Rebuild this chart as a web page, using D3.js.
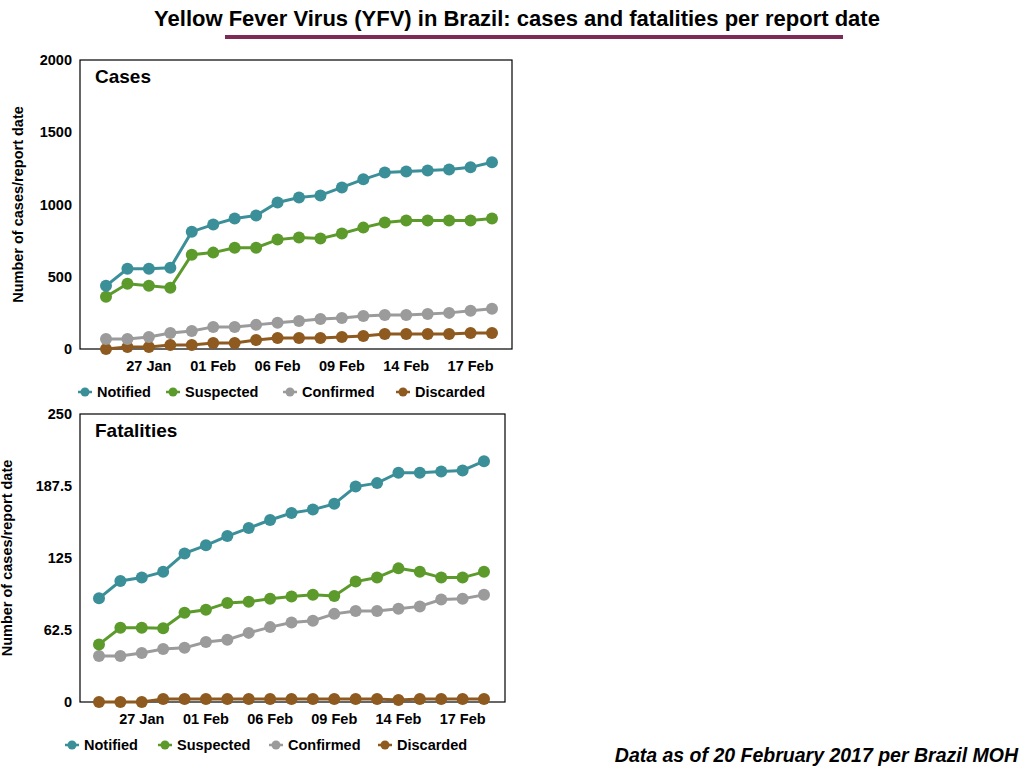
<!DOCTYPE html>
<html><head><meta charset="utf-8">
<script src="https://cdn.jsdelivr.net/npm/d3@7"></script>
<style>
body{margin:0;background:#fff;font-family:"Liberation Sans",Arial,sans-serif;}
text{font-family:"Liberation Sans",Arial,sans-serif;font-weight:bold;}
</style></head><body>
<svg id="c" width="1024" height="768"></svg>
<script>
const dates=['25 Jan','26 Jan','27 Jan','28 Jan','30 Jan','01 Feb','02 Feb','03 Feb','06 Feb','07 Feb','08 Feb','09 Feb','10 Feb','13 Feb','14 Feb','15 Feb','16 Feb','17 Feb','20 Feb'];
const tickIdx=[2,5,8,11,14,17];
const seriesNames=['Notified','Suspected','Confirmed','Discarded'];
const colors=['#3b8f98','#5b9a2b','#9b9b9b','#8e5a1f'];

const casesNotified=[437,555,555,562,812,861,903,924,1014,1049,1063,1118,1174,1222,1229,1236,1243,1257,1292];
const casesSuspected=[361,451,437,424,653,667,701,701,757,771,764,799,840,875,889,889,889,889,903];
const casesConfirmed=[69,69,83,111,125,153,153,167,181,194,208,215,229,236,236,243,250,264,278];
const casesDiscarded=[0,14,14,28,28,42,42,62,76,76,76,83,90,104,104,104,104,111,111];

const fatNotified=[90,105,108,113,129,136,144,151,158,164,167,172,187,190,199,199,200,201,209];
const fatSuspected=[50,64.5,64.5,64,77.5,80,86,87,89.7,91.5,93,92,104.5,108,116,113,108,108,113];
const fatConfirmed=[40,40,42.5,46,47,52,54,60,65,69,70.5,76.5,79,79,81,83,89,89.7,93];
const fatDiscarded=[0,0,0,2.6,2.6,2.6,2.6,2.6,2.6,2.6,2.6,2.6,2.6,2.6,1.7,2.6,2.6,2.6,2.6];

const svg=d3.select('#c');

svg.append('text').attr('x',517).attr('y',26).attr('text-anchor','middle')
  .style('font-size','22px').text('Yellow Fever Virus (YFV) in Brazil: cases and fatalities per report date');
svg.append('line').attr('x1',225).attr('x2',843).attr('y1',37).attr('y2',37)
  .attr('stroke','#7d2b55').attr('stroke-width',4);
svg.append('text').attr('x',1018).attr('y',762).attr('text-anchor','end')
  .style('font-size','19.5px').style('font-style','italic').text('Data as of 20 February 2017 per Brazil MOH');

function panel(o){
  const g=svg.append('g');
  const x=d3.scaleLinear().domain([0,dates.length-1]).range([o.x0,o.x1]);
  const y=d3.scaleLinear().domain([0,o.max]).range([o.bottom,o.top]);
  g.append('rect').attr('x',o.left).attr('y',o.top).attr('width',o.right-o.left).attr('height',o.bottom-o.top)
    .attr('fill','none').attr('stroke','#000').attr('stroke-width',1.2);
  o.ticks.forEach(t=>{
    g.append('text').attr('x',o.left-8).attr('y',y(t)+5).attr('text-anchor','end')
      .style('font-size','14.5px').text(t);
  });
  tickIdx.forEach(i=>{
    g.append('text').attr('x',x(i)).attr('y',o.bottom+22).attr('text-anchor','middle')
      .style('font-size','14.5px').text(dates[i]);
  });
  g.append('text').attr('transform',`translate(${o.ylx},${(o.top+o.bottom)/2}) rotate(-90)`)
    .attr('text-anchor','middle').style('font-size','14.5px').text('Number of cases/report date');
  g.append('text').attr('x',o.left+15).attr('y',o.top+23).style('font-size','19px').text(o.title);
  const line=d3.line().x((d,i)=>x(i)).y(d=>y(d));
  o.data.slice().reverse().forEach((s,ri)=>{
    const k=o.data.length-1-ri;
    g.append('path').attr('d',line(s)).attr('fill','none').attr('stroke',colors[k]).attr('stroke-width',3);
    g.selectAll(null).data(s).join('circle').attr('cx',(d,i)=>x(i)).attr('cy',d=>y(d)).attr('r',6).attr('fill',colors[k]);
  });
  seriesNames.forEach((n,i)=>{
    g.append('line').attr('x1',o.leg[i]-7).attr('x2',o.leg[i]+7).attr('y1',o.legY).attr('y2',o.legY)
      .attr('stroke',colors[i]).attr('stroke-width',2.5);
    g.append('circle').attr('cx',o.leg[i]).attr('cy',o.legY).attr('r',4.5).attr('fill',colors[i]);
    g.append('text').attr('x',o.leg[i]+12).attr('y',o.legY+5).style('font-size','14.5px').text(n);
  });
}

panel({left:80,right:512,top:60,bottom:349,x0:106,x1:492,max:2000,ticks:[0,500,1000,1500,2000],
  ylx:23,title:'Cases',data:[casesNotified,casesSuspected,casesConfirmed,casesDiscarded],
  leg:[85,173,290,403],legY:392});
panel({left:80,right:505,top:414,bottom:702,x0:99,x1:484,max:250,ticks:[0,62.5,125,187.5,250],
  ylx:12,title:'Fatalities',data:[fatNotified,fatSuspected,fatConfirmed,fatDiscarded],
  leg:[72,165,276,385],legY:745});
</script></body></html>
